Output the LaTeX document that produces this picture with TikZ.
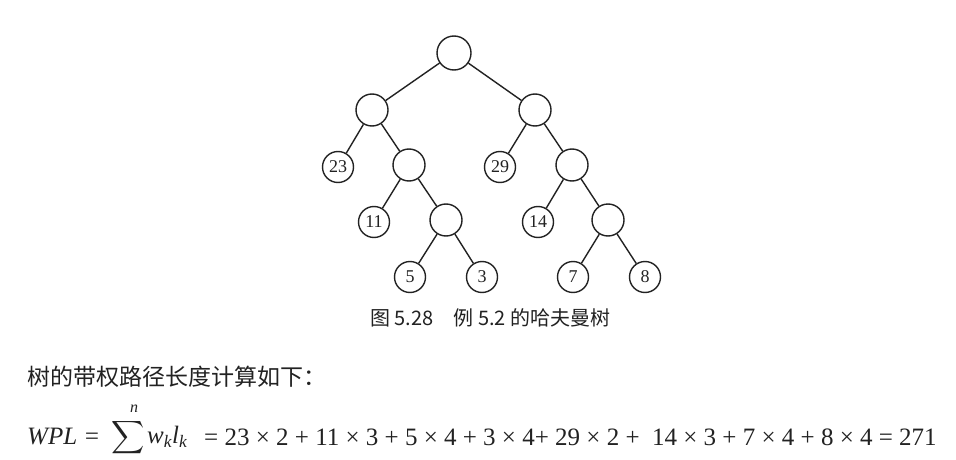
\documentclass[tikz,border=0pt]{standalone}
\usepackage{fontspec}
\setmainfont{Liberation Serif}
\newfontfamily\cjk{Noto Sans CJK SC}
\definecolor{ink}{HTML}{222222}
\begin{document}
\begin{tikzpicture}[x=1pt,y=-1pt,
  tnode/.style={circle,draw=ink,line width=1.4pt,minimum size=32pt,inner sep=0pt,
    font=\fontsize{18}{18}\selectfont,text=ink},
  lnode/.style={tnode,minimum size=31pt},
  edge/.style={draw=ink,line width=1.4pt}]
\fill[white] (0,0) rectangle (956,460);
\useasboundingbox (0,0) rectangle (956,460);
% tree
\node[tnode,minimum size=34pt] (r) at (454,53) {};
\node[tnode] (a) at (372,110) {};
\node[tnode] (b) at (535,110) {};
\node[lnode] (n23) at (338,167) {23};
\node[tnode] (c) at (409,165) {};
\node[lnode] (n29) at (500,167) {29};
\node[tnode] (d) at (572,165) {};
\node[lnode] (n11) at (374,222) {11};
\node[tnode] (e) at (446,220) {};
\node[lnode] (n14) at (538,222) {14};
\node[tnode] (f) at (608,220) {};
\node[lnode] (n5) at (410,277) {5};
\node[lnode] (n3) at (482,277) {3};
\node[lnode] (n7) at (573,277) {7};
\node[lnode] (n8) at (645,277) {8};
\draw[edge] (r) -- (a);
\draw[edge] (r) -- (b);
\draw[edge] (a) -- (n23);
\draw[edge] (a) -- (c);
\draw[edge] (b) -- (n29);
\draw[edge] (b) -- (d);
\draw[edge] (c) -- (n11);
\draw[edge] (c) -- (e);
\draw[edge] (d) -- (n14);
\draw[edge] (d) -- (f);
\draw[edge] (e) -- (n5);
\draw[edge] (e) -- (n3);
\draw[edge] (f) -- (n7);
\draw[edge] (f) -- (n8);
% caption
\node[anchor=west,inner sep=0pt,text=ink,font=\cjk\fontsize{20}{20}\selectfont] (cap) at (370,318)
  {图 5.28\quad 例 5.2 的哈夫曼树};
% body text
\node[anchor=west,inner sep=0pt,text=ink,font=\cjk\fontsize{23}{23}\selectfont] (txt) at (27,377)
  {树的带权路径长度计算如下：};
% formula
\node[anchor=west,inner sep=0pt,text=ink,font=\fontsize{25}{25}\selectfont] (wpl) at (27,437)
  {\itshape WPL =};
\node[inner sep=0pt,text=ink] (sum) at (128,438)
  {\scalebox{2.3}{$\displaystyle\sum$}};
\node[inner sep=0pt,text=ink,font=\fontsize{16}{16}\selectfont\itshape] (nn) at (134,409) {n};
\node[anchor=west,inner sep=0pt,text=ink,font=\fontsize{25}{25}\selectfont\itshape] (wl) at (147,437)
  {w\textsubscript{k}l\textsubscript{k}};
\node[anchor=west,inner sep=0pt,text=ink,font=\fontsize{25}{25}\selectfont] (eq) at (204,437)
  {= 23 × 2 + 11 × 3 + 5 × 4 + 3 × 4+ 29 × 2 +\ \ 14 × 3 + 7 × 4 + 8 × 4 = 271};
\end{tikzpicture}
\end{document}
